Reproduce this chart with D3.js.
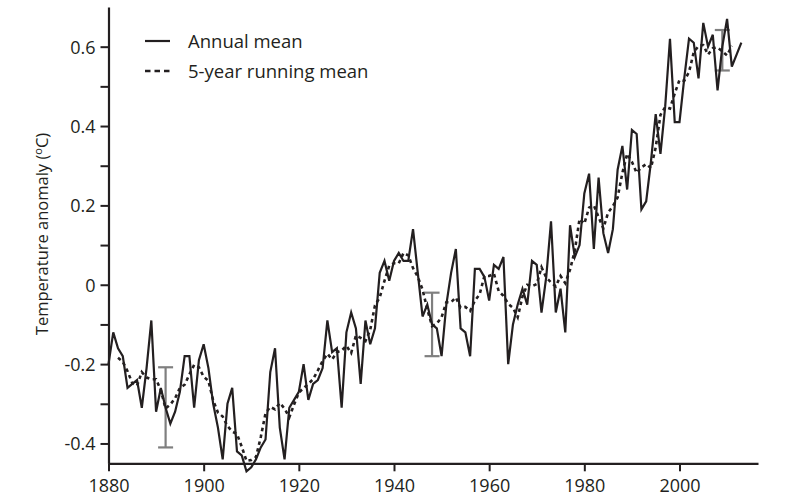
<!DOCTYPE html>
<html>
<head>
<meta charset="utf-8">
<script src="https://cdn.jsdelivr.net/npm/d3@7"></script>
<style>
  html, body { margin: 0; padding: 0; background: #fff; }
  svg { display: block; font-family: "Open Sans", "Noto Sans", sans-serif; }
</style>
</head>
<body>
<svg id="chart" width="800" height="504"></svg>
<script>
// ---- Data ----
const years = d3.range(1880, 2014);
const annualMean = [
  -0.20, -0.12, -0.16, -0.18, -0.26, -0.25, -0.24, -0.31, -0.21, -0.09,
  -0.32, -0.26, -0.31, -0.35, -0.32, -0.27, -0.18, -0.18, -0.31, -0.19,
  -0.15, -0.21, -0.30, -0.36, -0.44, -0.30, -0.26, -0.42, -0.43, -0.47,
  -0.46, -0.44, -0.41, -0.39, -0.22, -0.16, -0.36, -0.44, -0.31, -0.29,
  -0.27, -0.20, -0.29, -0.25, -0.24, -0.21, -0.09, -0.17, -0.16, -0.31,
  -0.12, -0.07, -0.11, -0.25, -0.09, -0.15, -0.11, 0.03, 0.06, 0.01,
  0.06, 0.08, 0.06, 0.06, 0.14, 0.03, -0.08, -0.05, -0.10, -0.11,
  -0.18, -0.05, 0.03, 0.09, -0.11, -0.12, -0.18, 0.04, 0.04, 0.02,
  -0.04, 0.05, 0.04, 0.07, -0.20, -0.10, -0.05, -0.01, -0.05, 0.06,
  0.05, -0.07, 0.02, 0.16, -0.07, -0.01, -0.12, 0.15, 0.07, 0.10,
  0.23, 0.28, 0.09, 0.27, 0.13, 0.08, 0.14, 0.29, 0.35, 0.24,
  0.39, 0.38, 0.19, 0.21, 0.31, 0.43, 0.33, 0.45, 0.62, 0.41,
  0.41, 0.52, 0.62, 0.61, 0.52, 0.66, 0.60, 0.63, 0.49, 0.60,
  0.67, 0.55, 0.58, 0.61
];
const runYears = d3.range(1882, 2012);
const runningMean = [
  -0.184, -0.194, -0.218, -0.248, -0.254, -0.220, -0.234, -0.238,
  -0.238, -0.266, -0.312, -0.302, -0.286, -0.260, -0.252, -0.226, -0.202, -0.208,
  -0.232, -0.242, -0.292, -0.322, -0.332, -0.356, -0.370, -0.376, -0.408, -0.444,
  -0.442, -0.434, -0.384, -0.324, -0.308, -0.314, -0.298, -0.312, -0.334, -0.302,
  -0.272, -0.260, -0.250, -0.238, -0.216, -0.192, -0.174, -0.188, -0.170, -0.166,
  -0.154, -0.172, -0.128, -0.134, -0.142, -0.114, -0.052, -0.032, 0.010, 0.048,
  0.054, 0.054, 0.080, 0.074, 0.042, 0.020, -0.012, -0.062, -0.104, -0.098,
  -0.082, -0.044, -0.044, -0.032, -0.058, -0.056, -0.066, -0.040, -0.024, 0.022,
  0.022, 0.028, -0.016, -0.028, -0.048, -0.058, -0.082, -0.030, 0.000, -0.004,
  0.002, 0.044, 0.018, 0.006, -0.004, 0.022, 0.004, 0.038, 0.086, 0.166,
  0.154, 0.194, 0.200, 0.170, 0.142, 0.182, 0.198, 0.220, 0.282, 0.330,
  0.310, 0.282, 0.296, 0.304, 0.294, 0.346, 0.428, 0.448, 0.444, 0.482,
  0.516, 0.514, 0.536, 0.586, 0.602, 0.604, 0.580, 0.596, 0.598, 0.588,
  0.578, 0.602
];
// uncertainty bars: year, low, high
const errYears = [1892, 1948, 2009];
const errLow = [-0.41, -0.18, 0.54];
const errHigh = [-0.208, -0.02, 0.642];

const xTickValues = [1880, 1900, 1920, 1940, 1960, 1980, 2000];
const yTickValues = [-0.4, -0.3, -0.2, -0.1, 0, 0.1, 0.2, 0.3, 0.4, 0.5, 0.6];
const yTickLabels = {"-0.4": "-0.4", "-0.2": "-0.2", "0": "0", "0.2": "0.2", "0.4": "0.4", "0.6": "0.6"};
const legendLabels = ["Annual mean", "5-year running mean"];
const yAxisTitle = "Temperature anomaly (";

// ---- Drawing ----
const ink = "#231f20";
const svg = d3.select("#chart");
const x = d3.scaleLinear().domain([1880, 2016.5]).range([108.5, 758]);
const y = d3.scaleLinear().domain([-0.45, 0.7]).range([463.3, 7]);

// error bars (beneath lines)
const eb = svg.append("g").attr("stroke", "#7f7f7f").attr("stroke-width", 2.2).attr("fill", "none");
errYears.forEach((yr, i) => {
  const cx = x(yr);
  eb.append("line").attr("x1", cx).attr("x2", cx).attr("y1", y(errLow[i])).attr("y2", y(errHigh[i]));
  eb.append("line").attr("x1", cx - 7.5).attr("x2", cx + 7.5).attr("y1", y(errLow[i])).attr("y2", y(errLow[i]));
  eb.append("line").attr("x1", cx - 7.5).attr("x2", cx + 7.5).attr("y1", y(errHigh[i])).attr("y2", y(errHigh[i]));
});

// running mean
const line = d3.line().x(d => x(d[0])).y(d => y(d[1]));
svg.append("path")
  .datum(runYears.map((yr, i) => [yr, runningMean[i]]))
  .attr("fill", "none").attr("stroke", ink).attr("stroke-width", 2.6)
  .attr("stroke-dasharray", "3.5,3.5")
  .attr("d", line);

// annual mean
svg.append("path")
  .datum(years.map((yr, i) => [yr, annualMean[i]]))
  .attr("fill", "none").attr("stroke", ink).attr("stroke-width", 2.2)
  .attr("stroke-linejoin", "miter").attr("stroke-miterlimit", 4)
  .attr("d", line);

// axes
const yAxis = d3.axisLeft(y).tickValues(yTickValues).tickSize(8).tickSizeOuter(0)
  .tickFormat(d => yTickLabels[String(+d.toFixed(1))] || "");
const gy = svg.append("g").attr("transform", `translate(${x(1880)},0)`).call(yAxis);
const xAxis = d3.axisBottom(x).tickValues(xTickValues).tickSize(8).tickSizeOuter(0).tickFormat(d3.format("d"));
const gx = svg.append("g").attr("transform", `translate(0,${y(-0.45)})`).call(xAxis);

[gx, gy].forEach(g => {
  g.select(".domain").attr("stroke", ink).attr("stroke-width", 2.2);
  g.selectAll(".tick line").attr("stroke", ink).attr("stroke-width", 2);
  g.selectAll(".tick text").attr("fill", ink).style("font-size", "18px")
    .style("font-family", '"Open Sans", sans-serif');
});
gy.selectAll(".tick text").attr("x", -13).attr("dy", "0.36em");
gx.selectAll(".tick text").attr("y", 16).attr("dy", "0.71em");

// y axis title
const yt = svg.append("text")
  .attr("transform", "translate(48,234) rotate(-90)")
  .attr("text-anchor", "middle")
  .attr("fill", ink).style("font-size", "16.5px");
yt.append("tspan").text(yAxisTitle);
yt.append("tspan").text("o").style("font-size", "11px").attr("dy", "-6");
yt.append("tspan").text("C)").attr("dy", "6");

// legend
const lg = svg.append("g");
lg.append("line").attr("x1", 145).attr("x2", 170).attr("y1", 41).attr("y2", 41)
  .attr("stroke", ink).attr("stroke-width", 2.2);
lg.append("line").attr("x1", 145).attr("x2", 170).attr("y1", 71).attr("y2", 71)
  .attr("stroke", ink).attr("stroke-width", 2.4).attr("stroke-dasharray", "5.5,4");
lg.append("text").attr("x", 188).attr("y", 47.5).attr("fill", ink).style("font-size", "18.5px").text(legendLabels[0]);
lg.append("text").attr("x", 188).attr("y", 77.5).attr("fill", ink).style("font-size", "18.5px").text(legendLabels[1]);
</script>
</body>
</html>
